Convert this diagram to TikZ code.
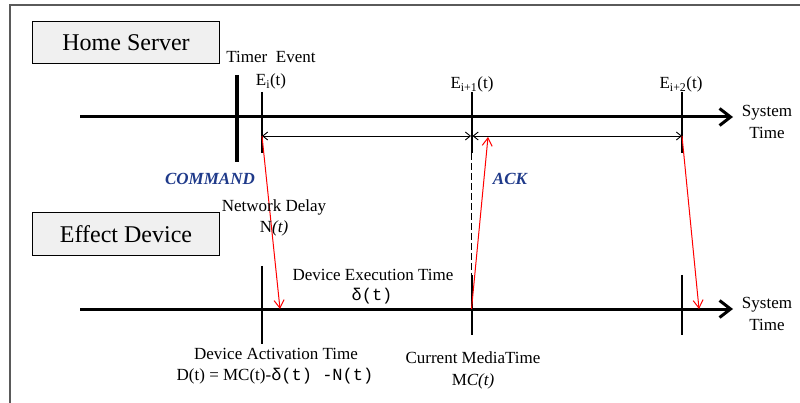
\documentclass[tikz,border=0pt]{standalone}
\usepackage{fontspec}
\setmainfont{Liberation Serif}
\setmonofont{Liberation Mono}
\usetikzlibrary{arrows.meta}

\definecolor{tagblue}{HTML}{1F3A8A}
\definecolor{boxgray}{HTML}{F0F0F0}
\definecolor{framegray}{HTML}{5A5A5A}

\begin{document}
\begin{tikzpicture}[x=1pt, y=-1pt,
  lbl/.style={font=\fontsize{17}{22}\selectfont, inner sep=0pt, anchor=base},
  tag/.style={font=\fontsize{17}{22}\selectfont\bfseries\itshape, text=tagblue, inner sep=0pt, anchor=base},
  hostbox/.style={draw, line width=1pt, fill=boxgray, minimum width=187pt, minimum height=42pt,
    font=\fontsize{24}{26}\selectfont},
  timeaxis/.style={line width=3pt, -{Straight Barb[length=11pt, width=17pt]}},
  evtick/.style={line width=2pt},
  msg/.style={red, line width=1pt, -{Straight Barb[length=8pt, width=10pt]}},
  period/.style={line width=0.9pt, {Straight Barb[length=5pt, width=8pt]}-{Straight Barb[length=5pt, width=8pt]}}
]
  \useasboundingbox (0,0) rectangle (800,403);
  % frame
  \draw[framegray, line width=1.5pt] (10,403) -- (10,5) -- (800,5);

  % --- Home Server (upper time line) ---
  \node[hostbox] (server) at (126,43) {Home Server};
  \draw[timeaxis] (80,117) -- (733,117);
  \node[lbl, align=center] (systime1) at (767,139) {System\\Time};
  % timer event and ticks
  \draw[line width=3.5pt] (237,75) -- (237,162);
  \draw[evtick] (262,92) -- (262,153);
  \draw[evtick] (471.5,92) -- (471.5,153);
  \draw[evtick] (682,92) -- (682,153);
  \node[lbl] (timer) at (271,63) {Timer\ \ Event};
  \node[lbl] (ei) at (271,86) {E\textsubscript{i}(t)};
  \node[lbl] (ei1) at (472,89) {E\textsubscript{i+1}(t)};
  \node[lbl] (ei2) at (681,89) {E\textsubscript{i+2}(t)};
  % periods
  \coordinate (s0) at (262,136);
  \coordinate (s1) at (471,136);
  \coordinate (s1b) at (472.5,136);
  \coordinate (s2) at (682,136);
  \draw[period] (s0) -- (s1);
  \draw[period] (s1b) -- (s2);

  % --- Effect Device (lower time line) ---
  \node[hostbox, minimum height=43pt] (device) at (126,234.5) {Effect Device};
  \draw[timeaxis] (80,309) -- (733,309);
  \node[lbl, align=center] (systime2) at (767,330) {System\\Time};
  \draw[evtick] (262,266) -- (262,344);
  \draw[evtick] (471.5,275) -- (471.5,335);
  \draw[evtick] (682,275) -- (682,335);
  % link between E_{i+1} and media time
  \draw[line width=1pt, dash pattern=on 7pt off 3pt] (471.5,153) -- (471.5,275);

  % messages
  \coordinate (d0) at (280,309);
  \coordinate (mc) at (471.5,309);
  \coordinate (ack) at (488,137);
  \coordinate (d2) at (699,309);
  \draw[msg] (s0) -- (d0);
  \draw[msg] (mc) -- (ack);
  \draw[msg] (s2) -- (d2);
  \node[tag] (command) at (210,185) {COMMAND};
  \node[tag] (acklbl) at (510,185) {ACK};

  % labels
  \node[lbl] (netdelay) at (274,212) {Network Delay};
  \node[lbl] (nt) at (274,233) {N\textit{(t)}};
  \node[lbl] (exec) at (373,280) {Device Execution Time};
  \node[lbl] (delta) at (372,301) {\texttt{δ(t)}};
  \node[lbl] (activ) at (276,359) {Device Activation Time};
  \node[lbl] (dt) at (275,380) {D(t) = MC(t)-\texttt{δ(t) -N(t)}};
  \node[lbl] (media) at (473,363) {Current MediaTime};
  \node[lbl] (mct) at (473,385) {M\textit{C(t)}};
\end{tikzpicture}
\end{document}
